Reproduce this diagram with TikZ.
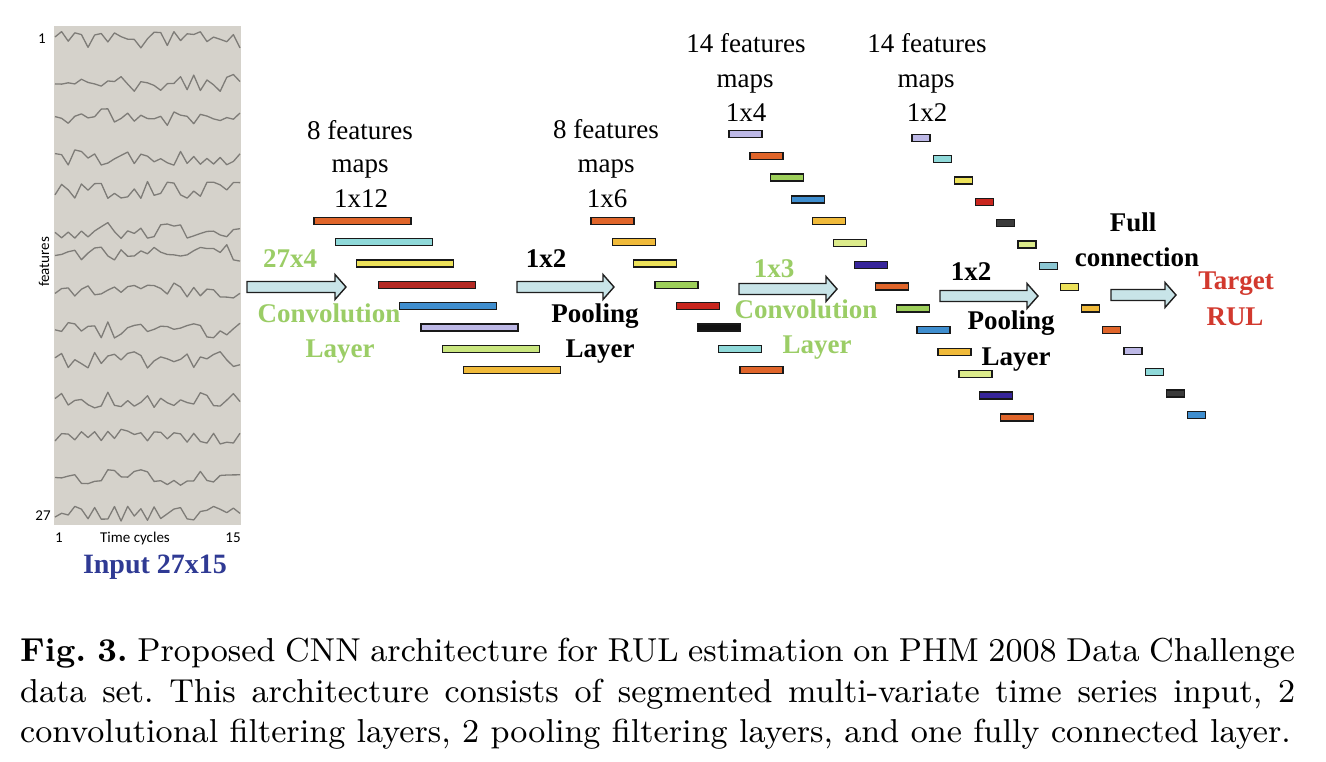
\documentclass[tikz,border=0pt]{standalone}
\usepackage{fontspec}
\newfontfamily\tnr{Liberation Serif}
\newfontfamily\carl{Carlito}
\definecolor{panel}{HTML}{D5D2CB}
\definecolor{wigc}{HTML}{7E7C78}
\definecolor{arrfill}{HTML}{C8E4E8}
\definecolor{lgtxt}{HTML}{9BCD66}
\definecolor{rdtxt}{HTML}{D2392E}
\definecolor{bltxt}{HTML}{2F3A94}
\definecolor{corange}{HTML}{E0652A}
\definecolor{ccyan}{HTML}{8FD9D9}
\definecolor{cyellow}{HTML}{EDE25A}
\definecolor{cdred}{HTML}{B42A24}
\definecolor{cblue}{HTML}{3F8ECF}
\definecolor{clav}{HTML}{BDB8E6}
\definecolor{clgreen}{HTML}{C9E67F}
\definecolor{cgold}{HTML}{F0BA3A}
\definecolor{cgreen}{HTML}{9DCF5A}
\definecolor{cred}{HTML}{C9261E}
\definecolor{cblack}{HTML}{111111}
\definecolor{cygreen}{HTML}{DCEB8B}
\definecolor{cindigo}{HTML}{37259A}
\definecolor{cdgrey}{HTML}{3A3A3A}
\definecolor{cteal}{HTML}{8CC7D3}
\newcommand\blkarrow[3]{%
  \draw[blockarr] (#1,{#3-5.5}) -- ({#2-11},{#3-5.5}) -- ({#2-11},{#3-12.5}) -- (#2,#3)
    -- ({#2-11},{#3+12.5}) -- ({#2-11},{#3+5.5}) -- (#1,{#3+5.5}) -- cycle;}
\begin{document}
\begin{tikzpicture}[x=1pt,y=-1pt,
  lbl/.style={font=\tnr\fontsize{27}{34}\selectfont, inner sep=0, anchor=base},
  blbl/.style={font=\tnr\bfseries\fontsize{27}{34}\selectfont, inner sep=0, anchor=base},
  axl/.style={font=\carl\fontsize{15}{18}\selectfont, inner sep=0},
  fmap/.style={draw=black!90, line width=1.3pt, minimum height=7pt, inner sep=0, anchor=center},
  blockarr/.style={draw=black!88, line width=1.4pt, fill=arrfill, line join=miter},
  wig/.style={draw=wigc, line width=1.3pt, line join=round}]
\path[use as bounding box, fill=white] (0,0) rectangle (1326,762);

% input panel
\fill[panel] (54,26) rectangle (241,525);
\pgfmathsetseed{17}
\foreach \yy in {40,83,117,157,190,230,253,290,330,360,400,437,477,513}{
  \draw[wig] (55,{\yy+5*rand}) \foreach \k in {1,...,28}{ -- ({55+\k*185/28},{\yy+8.5*rand}) };
}
\node[axl] (n1) at (42,39) {1};
\node[axl] (n27) at (43,516) {27};
\node[axl] (t1) at (59,538) {1};
\node[axl] (tc) at (135,538) {Time cycles};
\node[axl] (t15) at (233,538) {15};
\node[axl, rotate=90] (feat) at (44,262) {features};
\node[blbl, text=bltxt, font=\tnr\bfseries\fontsize{28}{34}\selectfont] (inp) at (155,573) {Input 27x15};

% arrows
\blkarrow{247}{346}{287}
\blkarrow{517}{614}{287}
\blkarrow{739}{837}{289}
\blkarrow{940}{1038}{296}
\blkarrow{1111}{1176}{295}

% layer labels
\node[blbl, text=lgtxt] (k1) at (290,268) {27x4};
\node[blbl, text=lgtxt] (conv1) at (329,323) {Convolution};
\node[blbl, text=lgtxt] (lay1) at (340,357) {Layer};
\node[blbl] (p1) at (546,268) {1x2};
\node[blbl] (pool1) at (595,322) {Pooling};
\node[blbl] (lay2) at (600,357) {Layer};
\node[blbl, text=lgtxt] (k2) at (774,278) {1x3};
\node[blbl, text=lgtxt] (conv2) at (806,318) {Convolution};
\node[blbl, text=lgtxt] (lay3) at (817,353) {Layer};
\node[blbl] (p2) at (971,280) {1x2};
\node[blbl] (pool2) at (1011,330) {Pooling};
\node[blbl] (lay4) at (1016,365) {Layer};
\node[blbl] (full) at (1133,232) {Full};
\node[blbl] (conn) at (1137,267) {connection};
\node[blbl, text=rdtxt] (tgt) at (1236,290) {Target};
\node[blbl, text=rdtxt] (rul) at (1235,325) {RUL};

% feature map titles
\node[lbl] (g1a) at (360,140) {8 features};
\node[lbl] (g1b) at (360,173) {maps};
\node[lbl] (g1c) at (361,208) {1x12};
\node[lbl] (g2a) at (606,139) {8 features};
\node[lbl] (g2b) at (606,173) {maps};
\node[lbl] (g2c) at (607,208) {1x6};
\node[lbl] (g3a) at (746,53) {14 features};
\node[lbl] (g3b) at (745,88) {maps};
\node[lbl] (g3c) at (746,122) {1x4};
\node[lbl] (g4a) at (927,53) {14 features};
\node[lbl] (g4b) at (926,88) {maps};
\node[lbl] (g4c) at (927,122) {1x2};

% feature maps
\foreach \c [count=\i] in {corange,ccyan,cyellow,cdred,cblue,clav,clgreen,cgold}
  \node[fmap, fill=\c, minimum width=97pt] (fa\i) at ({362.5+21.4*(\i-1)},{221+21.3*(\i-1)}) {};
\foreach \c [count=\i] in {corange,cgold,cyellow,cgreen,cred,cblack,ccyan,corange}
  \node[fmap, fill=\c, minimum width=43pt] (fb\i) at ({612.5+21.3*(\i-1)},{221+21.3*(\i-1)}) {};
\foreach \c [count=\i] in {clav,corange,cgreen,cblue,cgold,cygreen,cindigo,corange,cgreen,cblue,cgold,cygreen,cindigo,corange}
  \node[fmap, fill=\c, minimum width=33pt] (fc\i) at ({745.5+20.9*(\i-1)},{134+21.8*(\i-1)}) {};
\foreach \c [count=\i] in {clav,ccyan,cyellow,cred,cdgrey,cygreen,cteal,cyellow,cgold,corange,clav,ccyan,cdgrey,cblue}
  \node[fmap, fill=\c, minimum width=18pt] (fd\i) at ({921+21.2*(\i-1)},{138+21.3*(\i-1)}) {};

% caption
\node[anchor=north west, inner sep=0] (cap) at (20,638) {\scalebox{3.687}{\parbox[t]{345.8pt}{\fontsize{9}{11}\selectfont\frenchspacing\noindent\textbf{Fig.~3.} Proposed CNN architecture for RUL estimation on PHM 2008 Data Challenge data set. This architecture consists of segmented multi-variate time series input, 2 convolutional filtering layers, 2 pooling filtering layers, and one fully connected layer.}}};
\end{tikzpicture}
\end{document}
